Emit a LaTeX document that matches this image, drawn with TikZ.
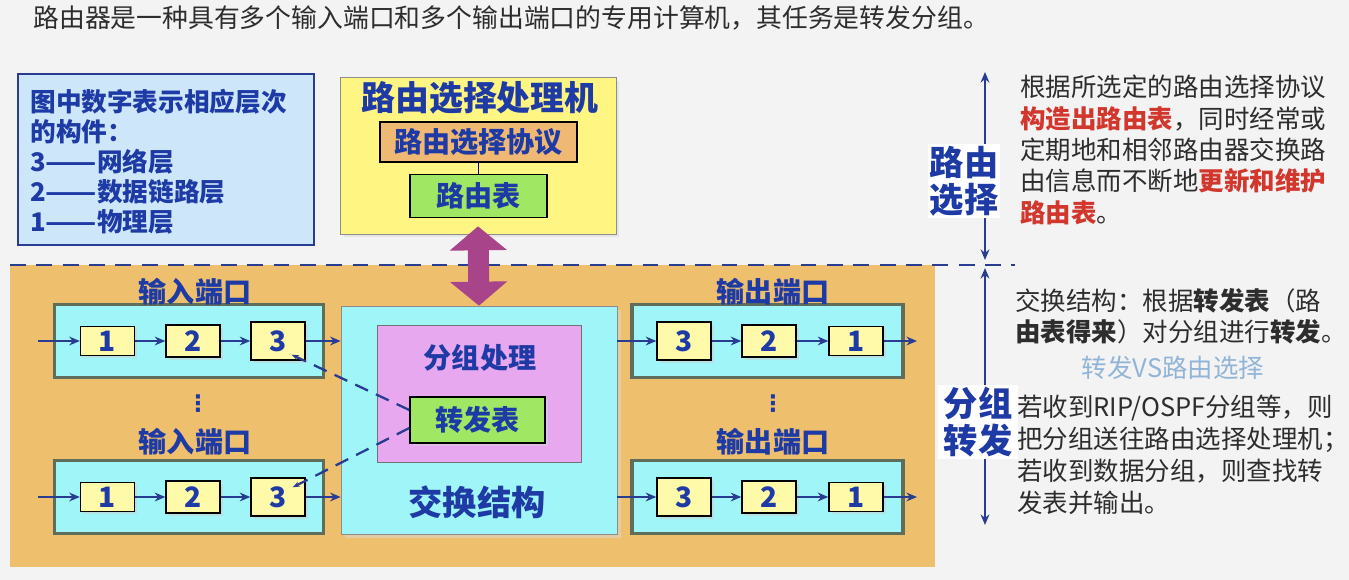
\documentclass[tikz,border=0pt]{standalone}
\usepackage{fontspec}
\setmainfont{Noto Sans CJK SC}
\newfontfamily\symfont{DejaVu Sans}
\usepackage{xcolor}
\usepackage{tikz}
\usetikzlibrary{arrows.meta,positioning,fit,backgrounds,shadows}

\definecolor{pagebg}{RGB}{243,243,243}
\definecolor{txtblue}{RGB}{30,58,165}
\definecolor{arrblue}{RGB}{40,60,145}
\definecolor{txtgray}{RGB}{45,45,45}
\definecolor{txtred}{RGB}{210,55,45}
\definecolor{softblue}{RGB}{145,180,215}
\definecolor{legendfill}{RGB}{205,230,250}
\definecolor{procyel}{RGB}{255,245,130}
\definecolor{protoorange}{RGB}{240,185,115}
\definecolor{tblgreen}{RGB}{160,232,100}
\definecolor{portbg}{RGB}{238,192,110}
\definecolor{cyanbox}{RGB}{160,245,248}
\definecolor{pinkbox}{RGB}{232,168,240}
\definecolor{cellyel}{RGB}{255,250,170}
\definecolor{portedge}{RGB}{95,110,90}
\definecolor{bigarrow}{RGB}{168,68,138}

\newcommand{\longdash}{\resizebox{2em}{\height}{——}}

\begin{document}
\begin{tikzpicture}[x=0.02cm, y=-0.02cm, >={Stealth[length=6pt,width=5pt]},
    lbl/.style={text=txtblue, font=\fontsize{16}{16}\selectfont\bfseries, inner sep=0pt},
    cell/.style={draw=black, fill=cellyel, thick, minimum width=1.08cm,
      font=\fontsize{16}{16}\selectfont\bfseries, text=txtblue, inner sep=0pt,
      drop shadow={shadow xshift=1.5pt, shadow yshift=-1.5pt, fill=black!20}},
    portbox/.style={draw=portedge, line width=2pt, fill=cyanbox,
      minimum width=5.38cm, minimum height=1.46cm},
    flow/.style={->, line width=1pt, draw=arrblue},
    lookup/.style={arrblue, line width=1.3pt, dash pattern=on 8pt off 5pt, -{Stealth[length=4pt]}},
    tbl/.style={draw=black, thick, fill=tblgreen, minimum width=2.74cm,
      minimum height=0.86cm, text=txtblue, font=\fontsize{16}{16}\selectfont\bfseries},
    side/.style={fill=white, text=txtblue, align=center, inner sep=1pt,
      font=\fontsize{19.5}{21}\selectfont\bfseries},
    vdotsnode/.style={text=txtblue, inner sep=0pt, font=\symfont\bfseries\fontsize{13}{13}\selectfont},
    note/.style={anchor=north west, align=left, inner sep=0pt, text=txtgray,
      font=\fontsize{14.5}{17.8}\selectfont}]
  \fill[pagebg] (0,0) rectangle (1349,580);
  \useasboundingbox (0,0) rectangle (1349,580);

  % headline
  \node[anchor=west, inner sep=0pt, text=txtgray, font=\fontsize{14.7}{16}\selectfont] (title) at (33,18)
    {路由器是一种具有多个输入端口和多个输出端口的专用计算机，其任务是转发分组。};

  % legend
  \node[draw=arrblue, line width=1.3pt, fill=legendfill, minimum width=5.92cm, minimum height=3.42cm] (legend) at (166,159.5) {};
  \node[anchor=north west, align=left, inner sep=0pt, text=txtblue,
        font=\fontsize{14.6}{17}\selectfont\bfseries] (legendtxt) at (30,89)
    {图中数字表示相应层次\\的构件：\\3\longdash 网络层\\2\longdash 数据链路层\\1\longdash 物理层};

  % routing processor
  \node[draw=black!45, fill=procyel, minimum width=5.52cm, minimum height=3.14cm,
        drop shadow={shadow xshift=2pt, shadow yshift=-2pt, fill=black!15}] (proc) at (478,155.5) {};
  \node[lbl, font=\fontsize{19.3}{20}\selectfont\bfseries] (proctitle) at (480,98) {路由选择处理机};
  \node[draw=black, thick, fill=protoorange, minimum width=3.94cm, minimum height=0.8cm,
        text=txtblue, font=\fontsize{16}{16}\selectfont\bfseries] (proto) at (478.5,142) {路由选择协议};
  \node[tbl] (rtable) at (478.5,196) {路由表};
  \draw[thick] (proto) -- (rtable);

  % lower part
  \fill[portbg] (10,265) rectangle (935,567);
  \draw[arrblue, line width=1.3pt, dash pattern=on 9pt off 6pt] (10,265) -- (1015,265);

  \node[draw=black!45, fill=cyanbox, minimum width=5.52cm, minimum height=4.56cm,
        drop shadow={shadow xshift=2.5pt, shadow yshift=-2.5pt, fill=black!15}] (fabric) at (479,420) {};
  \node[draw=black!55, fill=pinkbox, minimum width=4.08cm, minimum height=2.74cm] (proc2) at (479,393.5) {};
  \node[lbl] (proc2txt) at (480,358) {分组处理};
  \node[tbl, minimum width=2.7cm, minimum height=0.92cm,
        drop shadow={shadow xshift=1.5pt, shadow yshift=-1.5pt, fill=black!15}] (ftable) at (477.5,420) {转发表};
  \node[lbl, font=\fontsize{19.5}{20}\selectfont\bfseries] (fabrictxt) at (477,502) {交换结构};

  \draw[bigarrow, line width=0.42cm,
        {Triangle[width=1.12cm,length=0.48cm]}-{Triangle[width=1.12cm,length=0.48cm]}]
    ([yshift=0.16cm]proc.south) -- (fabric.north);

  % input ports
  \foreach \p/\y/\ly in {a/341/292, b/497/442} {
    \node[portbox] (in\p) at (189,\y) {};
    \node[lbl] (inlbl\p) at (195,\ly) {输入端口};
    \node[cell, minimum height=0.58cm] (in\p1) at (107.5,\y) {1};
    \node[cell, minimum height=0.64cm] (in\p2) at (193,\y) {2};
    \node[cell, minimum height=0.76cm] (in\p3) at (278,\y) {3};
    \coordinate (src\p) at (38,\y);
    \draw[flow] (src\p) -- (in\p1);
    \draw[flow] (in\p1) -- (in\p2);
    \draw[flow] (in\p2) -- (in\p3);
    \draw[flow] (in\p3.east) -- (in\p3.east -| fabric.west);
  }

  % output ports
  \foreach \p/\y/\ly in {a/341/292, b/497/442} {
    \node[portbox, minimum width=5.42cm] (out\p) at (767.5,\y) {};
    \node[lbl] (outlbl\p) at (773,\ly) {输出端口};
    \node[cell, minimum height=0.76cm] (out\p3) at (684,\y) {3};
    \node[cell, minimum height=0.64cm] (out\p2) at (769,\y) {2};
    \node[cell, minimum height=0.58cm] (out\p1) at (856,\y) {1};
    \coordinate (dst\p) at (917,\y);
    \draw[flow] (out\p3.west -| fabric.east) -- (out\p3.west);
    \draw[flow] (out\p3) -- (out\p2);
    \draw[flow] (out\p2) -- (out\p1);
    \draw[flow] (out\p1) -- (dst\p);
  }

  \node[vdotsnode] (dotsin) at (198,404) {⋮};
  \node[vdotsnode] (dotsout) at (773,404) {⋮};

  % lookups in the forwarding table
  \draw[lookup] ([yshift=0.2cm]ftable.west) -- ([xshift=-0.28cm,yshift=0.12cm]ina3.south east);
  \draw[lookup] ([yshift=-0.16cm]ftable.west) -- ([xshift=-0.26cm,yshift=-0.2cm]inb3.north east);

  % right side
  \coordinate (rtop) at (985,72);
  \coordinate (rmid) at (985,260);
  \coordinate (ftop) at (985,268);
  \coordinate (fbot) at (985,525);
  \draw[arrblue, line width=1.2pt, <->] (rtop) -- (rmid);
  \draw[arrblue, line width=1.2pt, <->] (ftop) -- (fbot);
  \node[side, minimum width=1.44cm, minimum height=1.44cm] (routesel) at (964,181) {路由\\选择};
  \node[side, minimum width=1.6cm, minimum height=1.5cm] (fwd) at (978,422) {分组\\转发};

  \node[note] (routenote) at (1020,75)
    {根据所选定的路由选择协议\\
     \textcolor{txtred}{\bfseries 构造出路由表}，同时经常或\\
     定期地和相邻路由器交换路\\
     由信息而不断地\textcolor{txtred}{\bfseries 更新和维护}\\
     \textcolor{txtred}{\bfseries 路由表}。};
  \node[note] (fabricnote) at (1015,288)
    {交换结构：根据\textbf{转发表}（路\\
     \textbf{由表得来}）对分组进行\textbf{转发}。};
  \node[text=softblue, inner sep=0pt, font=\fontsize{14.5}{16}\selectfont] (vs) at (1173,368) {转发VS路由选择};
  \node[note, font=\fontsize{14.5}{18.2}\selectfont] (fwdnote) at (1017,395)
    {若收到RIP/OSPF分组等，则\\
     把分组送往路由选择处理机；\\
     若收到数据分组，则查找转\\
     发表并输出。};
\end{tikzpicture}
\end{document}
